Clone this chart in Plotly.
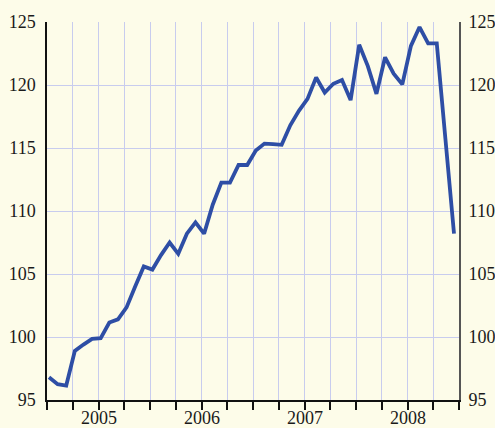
import plotly.graph_objects as go

# Monthly index values, Jan 2005 - Dec 2008
values = [
    96.8, 96.25, 96.15, 98.9, 99.4, 99.85, 99.9, 101.15, 101.4, 102.35, 104.0, 105.6,
    105.35, 106.5, 107.5, 106.6, 108.2, 109.1, 108.2, 110.5, 112.25, 112.25, 113.65, 113.65,
    114.8, 115.35, 115.3, 115.25, 116.8, 117.95, 118.9, 120.6, 119.4, 120.1, 120.4, 118.8,
    123.2, 121.5, 119.3, 122.2, 120.9, 120.05, 123.1, 124.6, 123.3, 123.3, 115.75, 108.2,
]
months = list(range(len(values)))
years = ["2005", "2006", "2007", "2008"]
y_ticks = [95, 100, 105, 110, 115, 120, 125]

x0, x1 = -0.232, 47.58
n_q = 16
step = (x1 - x0) / n_q
q_ticks = [x0 + k * step for k in range(n_q + 1)]
year_pos = [q_ticks[2 + 4 * i] for i in range(len(years))]

BG = "rgb(253,252,233)"
GRID = "rgb(200,204,238)"
LINE = "rgb(46,78,165)"
FONT = dict(family="Liberation Serif", size=18, color="#1a1a1a")

fig = go.Figure()
fig.add_trace(go.Scatter(x=months, y=values, mode="lines",
                         line=dict(color=LINE, width=3.8), hoverinfo="skip"))
fig.add_trace(go.Scatter(x=months, y=values, mode="lines", yaxis="y2",
                         line=dict(color="rgba(0,0,0,0)", width=0), hoverinfo="skip"))

for yr, xp in zip(years, year_pos):
    fig.add_annotation(x=xp, y=0, xref="x", yref="paper", text=yr, showarrow=False,
                       xanchor="center", yanchor="middle", yshift=-18, borderpad=0,
                       font=FONT)

fig.update_layout(
    width=495, height=428,
    margin=dict(l=47, r=36, t=22, b=28, autoexpand=False),
    paper_bgcolor=BG, plot_bgcolor=BG,
    showlegend=False,
    font=FONT,
    xaxis=dict(range=[x0, x1], tickmode="array", tickvals=q_ticks, showticklabels=False,
               ticks="outside", ticklen=8, tickwidth=1.5, tickcolor="#111",
               showline=True, linecolor="#111", linewidth=1.5,
               showgrid=True, gridcolor=GRID, gridwidth=1.2,
               zeroline=False, automargin=False),
    yaxis=dict(range=[95, 125], tickmode="array", tickvals=y_ticks,
               ticks="", showline=True, linecolor="#111", linewidth=1.5,
               showgrid=True, gridcolor=GRID, gridwidth=1.2,
               zeroline=False, tickfont=FONT, ticklabelstandoff=6, automargin=False),
    yaxis2=dict(range=[95, 125], tickmode="array", tickvals=y_ticks,
                overlaying="y", side="right", ticks="",
                showline=True, linecolor="#555", linewidth=2,
                showgrid=False, zeroline=False, tickfont=FONT, ticklabelstandoff=4,
                automargin=False),
)

fig.write_html(
    "out.html",
    config={"displayModeBar": False},
    post_script="document.body.style.margin='0';document.body.style.background='" + BG + "';",
)
